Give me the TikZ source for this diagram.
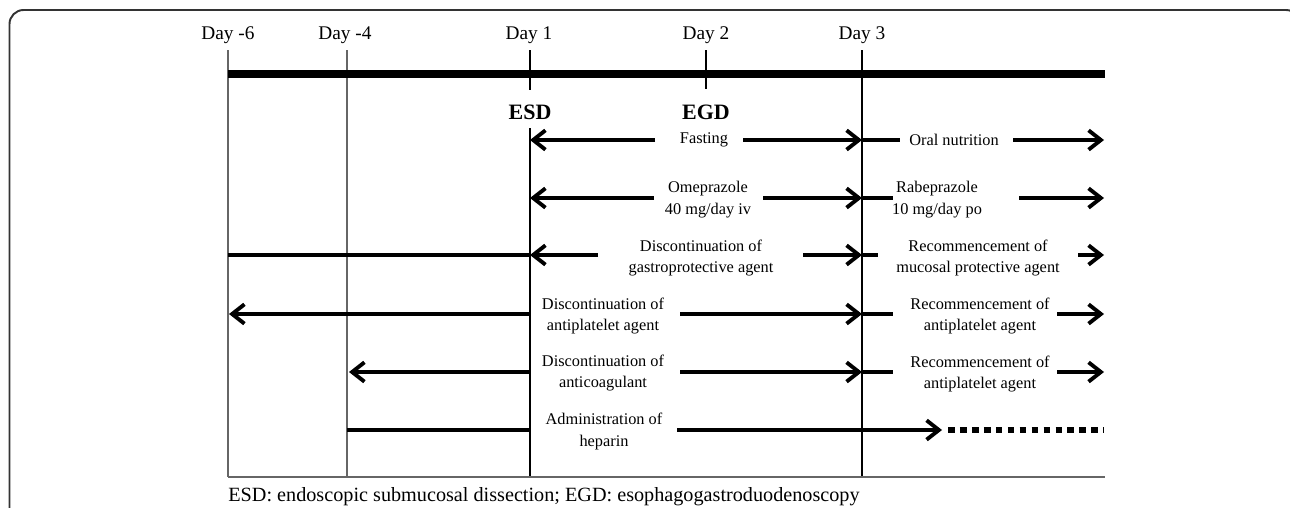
\documentclass[tikz,border=0pt]{standalone}
\usepackage{fontspec}
\setmainfont{Liberation Serif}
\usetikzlibrary{arrows.meta}
\tikzset{
	daystyle/.style={font=\fontsize{11}{13}\selectfont},
	notestyle/.style={font=\fontsize{11.5}{13}\selectfont},
	eventstyle/.style={font=\fontsize{12.5}{14}\selectfont\bfseries},
	rowstyle/.style={font=\fontsize{9.3}{12.5}\selectfont,align=center,inner sep=0pt},
	barstyle/.style={line width=4.5pt},
	rowline/.style={line width=2.2pt},
	dotline/.style={line width=3.8pt,dash pattern=on 3.8pt off 3pt},
	thinday/.style={line width=0.8pt,draw=black!60},
	boldday/.style={line width=1.1pt},
	>={Straight Barb[length=7pt,width=11pt]}
}
\begin{document}
\begin{tikzpicture}[x=0.02cm,y=-0.02cm]
		\useasboundingbox (0,0) rectangle (1290,507);
		\clip (0,0) rectangle (1290,507);
		% outer frame
		\draw[line width=1.1pt,draw=black!80,rounded corners=8pt] (9.5,10) rectangle (1300,540);
		% days
		\node[daystyle] (lm6) at (228,35) {Day -6};
		\node[daystyle] (lm4) at (345,35) {Day -4};
		\node[daystyle] (ld1) at (529,35) {Day 1};
		\node[daystyle] (ld2) at (706,35) {Day 2};
		\node[daystyle] (ld3) at (862,35) {Day 3};
		\node[eventstyle] (esd) at (530,112) {ESD};
		\node[eventstyle] (egd) at (706,112) {EGD};
		\coordinate (m6top) at (228,50);
		\coordinate (m6bot) at (228,477);
		\coordinate (m4top) at (347,50);
		\coordinate (m4bot) at (347,477);
		\coordinate (d1top) at (530,50);
		\coordinate (d1tick) at (530,90);
		\coordinate (d1mid) at (530,128);
		\coordinate (d1bot) at (530,477);
		\coordinate (d2top) at (706,50);
		\coordinate (d2tick) at (706,89);
		\coordinate (d3top) at (862,50);
		\coordinate (d3bot) at (862,477);
		\coordinate (endbot) at (1105,477);
		\coordinate (t0) at (228,74);
		\coordinate (t1) at (1105,74);
		\draw[thinday] (m6top)--(m6bot);
		\draw[thinday] (m4top)--(m4bot);
		\draw[boldday] (d1top)--(d1tick);
		\draw[boldday] (d1mid)--(d1bot);
		\draw[boldday] (d2top)--(d2tick);
		\draw[boldday] (d3top)--(d3bot);
		\draw[thinday] (m6bot)--(endbot);
		\draw[barstyle] (t0)--(t1);
		% fasting
		\coordinate (f1) at (530,140);
		\coordinate (f2) at (655,140);
		\node[rowstyle] (fast) at (704,140) {Fasting};
		\coordinate (f3) at (743,140);
		\coordinate (f4) at (862,140);
		\coordinate (f5) at (900,140);
		\node[rowstyle] (oral) at (954,140) {Oral nutrition};
		\coordinate (f6) at (1013,140);
		\coordinate (f7) at (1104,140);
		\draw[rowline,->] (f2)--(f1);
		\draw[rowline,->] (f3)--(f4);
		\draw[rowline] (f4)--(f5);
		\draw[rowline,->] (f6)--(f7);
		% PPI
		\coordinate (o1) at (530,198);
		\coordinate (o2) at (654,198);
		\node[rowstyle] (omep) at (708,200) {Omeprazole\\40 mg/day iv};
		\coordinate (o3) at (763,198);
		\coordinate (o4) at (862,198);
		\coordinate (o5) at (893,198);
		\node[rowstyle] (rabe) at (937,200) {Rabeprazole\\10 mg/day po};
		\coordinate (o6) at (1019,198);
		\coordinate (o7) at (1104,198);
		\draw[rowline,->] (o2)--(o1);
		\draw[rowline,->] (o3)--(o4);
		\draw[rowline] (o4)--(o5);
		\draw[rowline,->] (o6)--(o7);
		% gastroprotective agent
		\coordinate (g0) at (228,255);
		\coordinate (g1) at (530,255);
		\coordinate (g2) at (598,255);
		\node[rowstyle] (gastro) at (701,258) {Discontinuation of\\gastroprotective agent};
		\coordinate (g3) at (803,255);
		\coordinate (g4) at (862,255);
		\coordinate (g5) at (878,255);
		\node[rowstyle] (mucos) at (978,258) {Recommencement of\\mucosal protective agent};
		\coordinate (g6) at (1078,255);
		\coordinate (g7) at (1104,255);
		\draw[rowline] (g0)--(g1);
		\draw[rowline,->] (g2)--(g1);
		\draw[rowline,->] (g3)--(g4);
		\draw[rowline] (g4)--(g5);
		\draw[rowline,->] (g6)--(g7);
		% antiplatelet agent
		\coordinate (a0) at (229,314);
		\coordinate (a1) at (530,314);
		\node[rowstyle] (antip) at (603,316) {Discontinuation of\\antiplatelet agent};
		\coordinate (a2) at (680,314);
		\coordinate (a3) at (862,314);
		\coordinate (a4) at (893,314);
		\node[rowstyle] (recA) at (980,316) {Recommencement of\\antiplatelet agent};
		\coordinate (a5) at (1057,314);
		\coordinate (a6) at (1104,314);
		\draw[rowline,->] (a1)--(a0);
		\draw[rowline,->] (a2)--(a3);
		\draw[rowline] (a3)--(a4);
		\draw[rowline,->] (a5)--(a6);
		% anticoagulant
		\coordinate (c0) at (349,372);
		\coordinate (c1) at (530,372);
		\node[rowstyle] (antic) at (603,373) {Discontinuation of\\anticoagulant};
		\coordinate (c2) at (680,372);
		\coordinate (c3) at (862,372);
		\coordinate (c4) at (893,372);
		\node[rowstyle] (recB) at (980,374) {Recommencement of\\antiplatelet agent};
		\coordinate (c5) at (1057,372);
		\coordinate (c6) at (1104,372);
		\draw[rowline,->] (c1)--(c0);
		\draw[rowline,->] (c2)--(c3);
		\draw[rowline] (c3)--(c4);
		\draw[rowline,->] (c5)--(c6);
		% heparin
		\coordinate (h0) at (347,430);
		\coordinate (h1) at (530,430);
		\node[rowstyle] (hepa) at (604,431) {Administration of\\heparin};
		\coordinate (h2) at (677,430);
		\coordinate (h3) at (942,430);
		\coordinate (h4) at (948,430);
		\coordinate (h5) at (1104,430);
		\draw[rowline] (h0)--(h1);
		\draw[rowline,->] (h2)--(h3);
		\draw[dotline] (h4)--(h5);
		% note
		\node[notestyle,anchor=west,inner sep=0pt] (note) at (228,497) {ESD: endoscopic submucosal dissection; EGD: esophagogastroduodenoscopy};
\end{tikzpicture}
\end{document}
